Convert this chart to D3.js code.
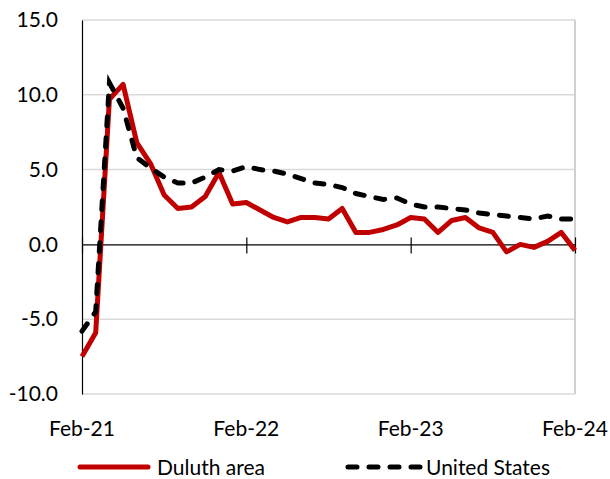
<!DOCTYPE html>
<html>
<head>
<meta charset="utf-8">
<script src="https://cdn.jsdelivr.net/npm/d3@7"></script>
<style>
  html, body { margin: 0; padding: 0; background: #fff; }
  svg text { font-family: Lato, "Open Sans", sans-serif; fill: #000; }
</style>
</head>
<body>
<svg id="chart" width="610" height="479"></svg>
<script>
// ---- Data ----
const months = ["Feb-21","Mar-21","Apr-21","May-21","Jun-21","Jul-21","Aug-21","Sep-21","Oct-21","Nov-21","Dec-21","Jan-22",
                "Feb-22","Mar-22","Apr-22","May-22","Jun-22","Jul-22","Aug-22","Sep-22","Oct-22","Nov-22","Dec-22","Jan-23",
                "Feb-23","Mar-23","Apr-23","May-23","Jun-23","Jul-23","Aug-23","Sep-23","Oct-23","Nov-23","Dec-23","Jan-24",
                "Feb-24"];
const duluth = [-7.5, -5.9, 9.7, 10.7, 6.8, 5.4, 3.3, 2.4, 2.5, 3.2, 4.8, 2.7,
                2.8, 2.3, 1.8, 1.5, 1.8, 1.8, 1.7, 2.4, 0.8, 0.8, 1.0, 1.3,
                1.8, 1.7, 0.8, 1.6, 1.8, 1.1, 0.8, -0.5, 0.0, -0.2, 0.2, 0.8,
                -0.4];
const us = [-5.8, -4.5, 10.8, 9.1, 5.8, 5.1, 4.5, 4.1, 4.1, 4.5, 5.0, 4.9,
            5.2, 5.0, 4.9, 4.7, 4.4, 4.1, 4.0, 3.8, 3.4, 3.2, 3.0, 3.1,
            2.7, 2.5, 2.5, 2.4, 2.3, 2.1, 2.0, 1.9, 1.8, 1.7, 1.9, 1.7,
            1.7];
const xTickLabels = ["Feb-21", "Feb-22", "Feb-23", "Feb-24"];
const yTicks = [-10, -5, 0, 5, 10, 15];
const seriesNames = ["Duluth area", "United States"];

// ---- Layout ----
const svg = d3.select("#chart");
const pLeft = 82, pRight = 575, pTop = 20, pBottom = 394;

const x = d3.scalePoint().domain(months).range([pLeft, pRight]).padding(0);
const y = d3.scaleLinear().domain([-10, 15]).range([pBottom, pTop]);

// gridlines
svg.append("g").selectAll("line")
  .data(yTicks.filter(d => d !== 0))
  .join("line")
  .attr("x1", pLeft).attr("x2", pRight)
  .attr("y1", d => y(d)).attr("y2", d => y(d))
  .attr("stroke", "#d9d9d9").attr("stroke-width", 1.5);

// right border
svg.append("line")
  .attr("x1", pRight).attr("x2", pRight).attr("y1", pTop).attr("y2", pBottom)
  .attr("stroke", "#d0d0d0").attr("stroke-width", 2);

// y axis
const yAxis = d3.axisLeft(y).tickValues(yTicks).tickSize(0).tickPadding(24)
  .tickFormat(d => d.toFixed(1));
const yg = svg.append("g").attr("transform", `translate(${pLeft},0)`).call(yAxis);
yg.select(".domain").attr("stroke", "#000").attr("stroke-width", 1.2);
yg.selectAll("text").style("font-size", "21px").attr("fill", "#000");

// x axis on zero line (ticks crossing)
const xAxis = d3.axisBottom(x).tickValues(xTickLabels).tickSizeInner(8).tickSizeOuter(0).tickFormat("");
const xg = svg.append("g").attr("transform", `translate(0,${y(0)})`).call(xAxis);
xg.select(".domain").attr("stroke", "#000").attr("stroke-width", 1.2);
xg.selectAll(".tick line").attr("y1", -7).attr("y2", 9).attr("stroke", "#000").attr("stroke-width", 1.2);

// x tick labels at bottom
svg.append("g").selectAll("text")
  .data(xTickLabels)
  .join("text")
  .attr("x", d => x(d)).attr("y", 436)
  .attr("text-anchor", "middle")
  .style("font-size", "21px")
  .text(d => d);

// lines
const line = d3.line().x((d, i) => x(months[i])).y(d => y(d));
svg.append("path").datum(duluth)
  .attr("d", line).attr("fill", "none")
  .attr("stroke", "#c00000").attr("stroke-width", 5).attr("stroke-linejoin", "round");
svg.append("path").datum(us)
  .attr("d", line).attr("fill", "none")
  .attr("stroke", "#000").attr("stroke-width", 5)
  .attr("stroke-dasharray", "9,12").attr("stroke-linecap", "round");

// legend
const lg = svg.append("g");
lg.append("line").attr("x1", 80).attr("x2", 148).attr("y1", 467).attr("y2", 467)
  .attr("stroke", "#c00000").attr("stroke-width", 5).attr("stroke-linecap", "round");
lg.append("text").attr("x", 157).attr("y", 475).style("font-size", "21px").text(seriesNames[0]);
lg.append("line").attr("x1", 348).attr("x2", 420).attr("y1", 467).attr("y2", 467)
  .attr("stroke", "#000").attr("stroke-width", 5)
  .attr("stroke-dasharray", "9,12").attr("stroke-linecap", "round");
lg.append("text").attr("x", 426).attr("y", 475).style("font-size", "21px").text(seriesNames[1]);
</script>
</body>
</html>
